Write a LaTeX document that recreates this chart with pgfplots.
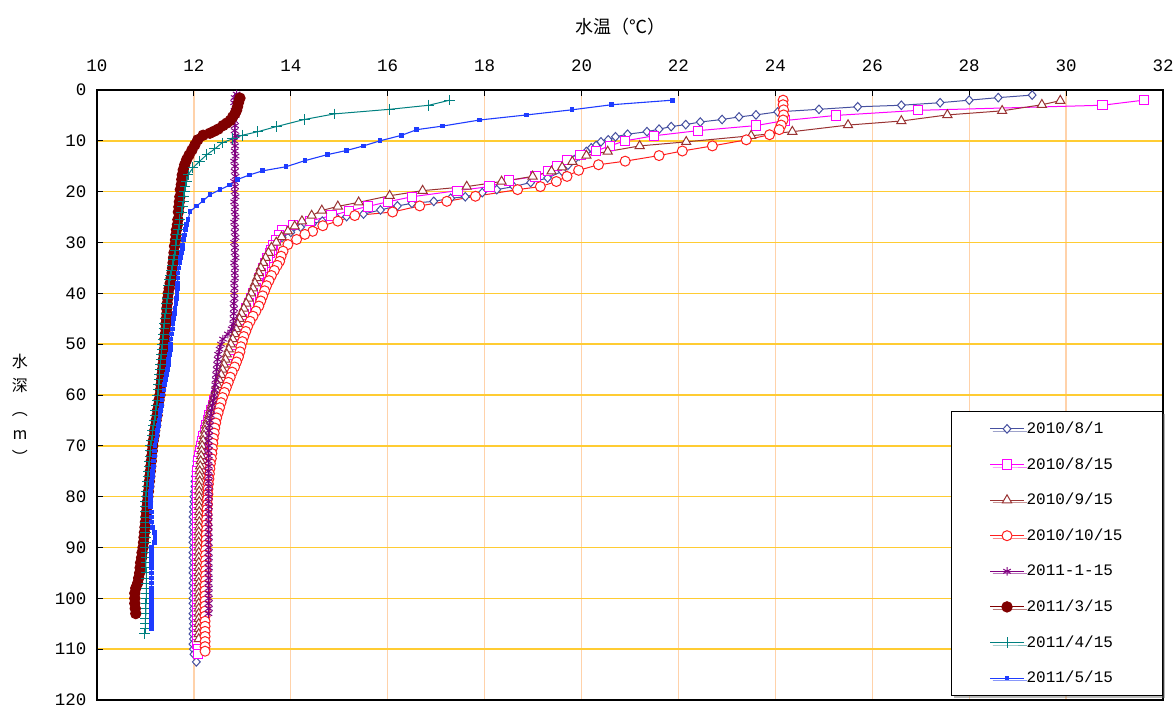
\documentclass[border=0pt]{standalone}
\usepackage{fontspec}
\setmainfont{Liberation Mono}
\newfontfamily\cjk{Noto Sans CJK SC}
\usepackage{pgfplots}
\pgfplotsset{compat=1.18}
\usetikzlibrary{shadows}
\definecolor{cA}{RGB}{70,80,160}
\definecolor{cB}{RGB}{255,0,255}
\definecolor{cC}{RGB}{153,51,51}
\definecolor{cD}{RGB}{255,30,30}
\definecolor{cE}{RGB}{128,0,128}
\definecolor{cF}{RGB}{128,0,0}
\definecolor{cG}{RGB}{0,128,128}
\definecolor{cH}{RGB}{30,60,255}
\definecolor{gridX}{RGB}{255,210,170}
\definecolor{gridY}{RGB}{255,204,51}
\begin{document}
\begin{tikzpicture}
\useasboundingbox (-97pt,-9pt) rectangle (1079pt,700pt);
\begin{axis}[
 at={(0pt,0pt)}, anchor=south west,
 width=1066pt, height=610pt, scale only axis,
 xmin=10, xmax=32, ymin=0, ymax=120, y dir=reverse,
 xtick={10,12,...,32}, ytick={0,10,...,120},
 xtick pos=right, xticklabel pos=right, ytick pos=left,
 tick align=inside, major tick length=6pt,
 tick style={black, line width=1pt},
 grid=major,
 x grid style={gridX, line width=1.3pt},
 y grid style={gridY, line width=1.5pt},
 axis line style={black, line width=1.4pt},
 tick label style={font=\fontsize{17.5}{20}\selectfont},
 xticklabel style={yshift=15pt},
 yticklabel style={xshift=-7pt},
 /pgf/number format/assume math mode=true,
 legend cell align=left,
 legend image code/.code={\draw[mark repeat=2,mark phase=2,#1] plot coordinates {(0pt,0pt) (17pt,0pt) (34pt,0pt)};},
 legend style={at={(1,0)}, anchor=south east, yshift=4pt, draw=black, line width=0.8pt, fill=white,
   drop shadow={shadow xshift=2.5pt, shadow yshift=-2.5pt, fill=black!55},
   inner xsep=38pt, inner ysep=8pt, row sep=16.6pt,
   font=\fontsize{16}{18}\selectfont,
   nodes={inner sep=2pt, text height=12pt, text depth=3pt}},
]
% 2010/8/1
\addplot[color=cA, line width=1pt, mark=diamond*, mark size=4.3pt, mark options={fill=white, solid, xscale=1.2}] coordinates {
(29.3,1) (28.6,1.5) (28.0,2) (27.4,2.5) (26.6,3) (25.7,3.3) (24.9,3.8) (24.05,4.3) (23.6,4.9) (23.25,5.3) (22.9,5.8) (22.45,6.3) (22.15,6.8) (21.85,7.2) (21.6,7.7) (21.35,8.2) (20.95,8.7) (20.7,9.2) (20.55,9.8) (20.4,10.2) (20.3,10.9) (20.2,11.4) (20.1,12.1) (19.95,13) (19.85,13.7) (19.72,14.8) (19.6,16) (19.3,17.3) (18.95,18.2) (18.6,19) (18.25,19.6) (17.95,20.2) (17.6,21) (17.3,21.3) (16.95,21.9) (16.5,22.3) (16.2,22.8) (15.85,23.6) (15.5,24.4) (15.15,24.9) (14.95,25.2) (14.65,25.8) (14.45,26.3) (14.2,27) (14.0,28) (13.82,29) (13.7,30) (13.64,31) (13.59,32) (13.54,33) (13.49,34) (13.44,35) (13.4,36) (13.36,37) (13.32,38) (13.28,39) (13.22,40) (13.17,41) (13.12,42) (13.07,43) (13.03,44) (12.99,45) (12.95,46) (12.92,47) (12.89,48) (12.85,49) (12.81,50) (12.77,51) (12.73,52) (12.69,53) (12.65,54) (12.61,55) (12.58,56) (12.54,57) (12.5,58) (12.47,59) (12.43,60) (12.4,61) (12.37,62) (12.34,63) (12.3,64) (12.27,65) (12.24,66) (12.21,67) (12.18,68) (12.15,69) (12.12,70) (12.1,71) (12.08,72) (12.06,73) (12.05,74) (12.04,75) (12.03,76) (12.02,77) (12.02,78) (12.01,79) (12.0,80) (12.0,81) (11.99,82) (11.99,83) (11.98,84) (11.99,85) (11.98,86) (11.99,87) (11.98,88) (11.98,89) (11.99,90) (11.98,91) (11.98,92) (11.99,93) (11.98,94) (11.98,95) (11.99,96) (11.98,97) (11.98,98) (11.99,99) (11.98,100) (11.98,101) (11.99,102) (11.98,103) (11.98,104) (11.99,105) (11.98,106) (11.98,107) (11.99,108) (11.98,109) (11.99,110) (12.0,111) (12.05,112.5)
};
\addlegendentry{2010/8/1}
% 2010/8/15
\addplot[color=cB, line width=1pt, mark=square*, mark size=4.6pt, mark options={fill=white, solid}] coordinates {
(31.6,2) (30.75,3) (26.95,4) (25.25,5) (24.2,6) (23.6,7) (22.4,8) (21.5,9) (20.9,10) (20.58,11) (20.3,12) (19.98,12.8) (19.7,13.8) (19.5,15) (19.3,16) (19.05,17) (18.5,17.8) (18.1,19) (17.44,19.8) (16.5,21) (16.0,22) (15.59,22.9) (15.2,23.8) (14.84,24.7) (14.39,25.8) (14.04,26.5) (13.81,27.5) (13.75,28.5) (13.69,29.5) (13.64,30.5) (13.6,31.5) (13.57,32) (13.52,33) (13.47,34) (13.42,35) (13.38,36) (13.35,37) (13.32,38) (13.28,39) (13.22,40) (13.17,41) (13.13,42) (13.08,43) (13.04,44) (13.0,45) (12.97,46) (12.94,47) (12.91,48) (12.88,49) (12.85,50) (12.8,51) (12.76,52) (12.72,53) (12.68,54) (12.65,55) (12.61,56) (12.57,57) (12.53,58) (12.5,59) (12.46,60) (12.42,61) (12.39,62) (12.36,63) (12.32,64) (12.29,65) (12.26,66) (12.23,67) (12.2,68) (12.17,69) (12.14,70) (12.12,71) (12.1,72) (12.09,73) (12.08,74) (12.07,75) (12.07,76) (12.07,77) (12.07,78) (12.07,79) (12.07,80) (12.07,81) (12.07,82) (12.07,83) (12.07,84) (12.07,85) (12.07,86) (12.07,87) (12.07,88) (12.07,89) (12.07,90) (12.07,91) (12.07,92) (12.07,93) (12.07,94) (12.07,95) (12.07,96) (12.07,97) (12.07,98) (12.07,99) (12.07,100) (12.07,101) (12.07,102) (12.07,103) (12.07,104) (12.07,105) (12.07,106) (12.07,107) (12.07,108) (12.07,109) (12.08,110) (12.08,111)
};
\addlegendentry{2010/8/15}
% 2010/9/15
\addplot[color=cC, line width=1pt, mark=triangle*, mark size=5.3pt, mark options={fill=white, solid}] coordinates {
(29.88,2.1) (29.5,2.9) (28.68,4.1) (27.55,4.9) (26.6,6.1) (25.5,6.9) (24.35,8.2) (23.5,9) (22.16,10.2) (21.2,11) (20.54,12.1) (20.1,12.9) (19.81,14.1) (19.6,15.2) (19.38,16) (18.99,17) (18.35,18) (17.63,19) (16.72,19.8) (16.04,20.8) (15.4,22.1) (14.97,22.9) (14.64,23.7) (14.43,24.7) (14.23,25.8) (14.08,26.8) (13.94,27.8) (13.81,28.9) (13.7,30) (13.6,31) (13.54,32) (13.48,33) (13.43,34) (13.38,35) (13.34,36) (13.3,37) (13.26,38) (13.22,39) (13.18,40) (13.13,41) (13.08,42) (13.03,43) (12.98,44) (12.94,45) (12.9,46) (12.87,47) (12.84,48) (12.8,49) (12.76,50) (12.72,51) (12.68,52) (12.65,53) (12.62,54) (12.59,55) (12.56,56) (12.52,57) (12.49,58) (12.46,59) (12.43,60) (12.4,61) (12.37,62) (12.34,63) (12.31,64) (12.28,65) (12.25,66) (12.23,67) (12.21,68) (12.19,69) (12.17,70) (12.16,71) (12.15,72) (12.14,73) (12.13,74) (12.12,75) (12.12,76) (12.12,77) (12.11,78) (12.11,79) (12.11,80) (12.11,81) (12.11,82) (12.11,83) (12.11,84) (12.11,85) (12.11,86) (12.1,87) (12.1,88) (12.1,89) (12.1,90) (12.1,91) (12.1,92) (12.1,93) (12.1,94) (12.1,95) (12.1,96) (12.1,97) (12.1,98) (12.1,99) (12.1,100) (12.1,101) (12.1,102) (12.1,103) (12.1,104) (12.1,105) (12.1,106) (12.1,107) (12.1,108)
};
\addlegendentry{2010/9/15}
% 2010/10/15
\addplot[color=cD, line width=1pt, mark=*, mark size=5pt, mark options={fill=white, solid}] coordinates {
(24.16,2) (24.16,2.9) (24.17,3.9) (24.17,4.9) (24.16,5.9) (24.12,6.9) (24.08,7.8) (23.88,8.8) (23.4,9.8) (22.7,11) (22.08,12) (21.6,12.9) (20.9,14) (20.35,14.7) (19.94,15.8) (19.7,17) (19.48,18) (19.15,19) (18.68,19.6) (17.81,20.9) (17.22,21.9) (16.66,22.8) (16.1,24) (15.32,24.7) (14.97,25.8) (14.66,26.7) (14.45,27.8) (14.29,28.4) (14.12,29.4) (13.94,30.4) (13.84,31.7) (13.8,32.7) (13.77,33.7) (13.72,34.5) (13.66,35.5) (13.6,36.5) (13.55,37.5) (13.5,38.5) (13.46,39.5) (13.42,40.5) (13.38,41.5) (13.34,42.5) (13.28,43.5) (13.22,44.5) (13.16,45.5) (13.11,46.5) (13.07,47.5) (13.03,48.5) (13.0,49.5) (12.97,50.5) (12.95,51.5) (12.92,52.5) (12.88,53.5) (12.84,54.5) (12.79,55.5) (12.75,56.5) (12.71,57.5) (12.67,58.5) (12.63,59.5) (12.59,60.5) (12.56,61.5) (12.53,62.5) (12.5,63.5) (12.47,64.5) (12.45,65.5) (12.43,66.5) (12.42,67.5) (12.4,68.5) (12.39,69.5) (12.38,70.5) (12.37,71.5) (12.36,72.5) (12.34,73.5) (12.33,74.5) (12.32,75.5) (12.31,76.5) (12.3,77.5) (12.29,78.5) (12.29,79.5) (12.28,80.5) (12.28,81.5) (12.27,82.5) (12.27,83.5) (12.26,84.5) (12.26,85.5) (12.26,86.5) (12.25,87.5) (12.25,88.5) (12.25,89.5) (12.24,90.5) (12.24,91.5) (12.24,92.5) (12.24,93.5) (12.24,94.5) (12.24,95.5) (12.24,96.5) (12.23,97.5) (12.23,98.5) (12.23,99.5) (12.23,100.5) (12.23,101.5) (12.23,102.5) (12.23,103.5) (12.23,104.5) (12.23,105.5) (12.23,106.5) (12.23,107.5) (12.23,108.5) (12.23,109.5) (12.23,110.4)
};
\addlegendentry{2010/10/15}
% 2011-1-15
\addplot[color=cE, line width=1pt, mark=asterisk, mark size=4.3pt, mark options={solid}] coordinates {
(12.88,0.8) (12.84,1.5) (12.86,2) (12.83,2.5) (12.86,3) (12.84,4) (12.86,5) (12.83,6) (12.85,7) (12.84,8) (12.86,9) (12.83,10) (12.85,11) (12.84,12) (12.86,13) (12.83,14) (12.85,15) (12.84,16) (12.86,17) (12.83,18) (12.85,19) (12.84,20) (12.86,21) (12.83,22) (12.85,23) (12.84,24) (12.86,25) (12.83,26) (12.85,27) (12.84,28) (12.86,29) (12.83,30) (12.85,31) (12.84,32) (12.86,33) (12.83,34) (12.85,35) (12.84,36) (12.85,37) (12.83,38) (12.84,39) (12.83,40) (12.84,41) (12.82,42) (12.83,43) (12.82,44) (12.82,45) (12.81,46) (12.78,47) (12.7,48) (12.6,49) (12.56,50) (12.53,51) (12.5,52) (12.49,53) (12.48,54) (12.47,55) (12.46,56) (12.45,57) (12.44,58) (12.43,59) (12.42,60) (12.4,61) (12.38,62) (12.36,63) (12.35,64) (12.33,65) (12.32,66) (12.31,67) (12.31,68) (12.3,69) (12.31,70) (12.3,71) (12.31,72) (12.3,73) (12.31,74) (12.3,75) (12.31,76) (12.3,77) (12.31,78) (12.3,79) (12.31,80) (12.3,81) (12.31,82) (12.3,83) (12.31,84) (12.3,85) (12.31,86) (12.3,87) (12.31,88) (12.3,89) (12.31,90) (12.3,91) (12.31,92) (12.3,93) (12.31,94) (12.3,95) (12.31,96) (12.3,97) (12.31,98) (12.3,99) (12.31,100) (12.3,101) (12.31,102) (12.3,103)
};
\addlegendentry{2011-1-15}
% 2011/3/15
\addplot[color=cF, line width=1pt, mark=*, mark size=5.2pt, mark options={fill=cF, solid}] coordinates {
(12.95,1.6) (12.92,2.5) (12.9,3.3) (12.88,4) (12.85,4.6) (12.8,5.3) (12.75,6) (12.68,6.5) (12.6,7) (12.5,7.7) (12.42,8.1) (12.33,8.5) (12.19,8.9) (12.08,9.8) (12.02,10.8) (11.96,11.8) (11.9,12.8) (11.85,13.7) (11.81,14.7) (11.78,15.7) (11.76,16.7) (11.75,17.6) (11.74,18.6) (11.72,19.6) (11.71,21) (11.7,22) (11.69,23) (11.68,24) (11.67,25.5) (11.66,26.5) (11.64,27.5) (11.63,28.5) (11.62,29.5) (11.6,30.7) (11.59,32) (11.58,33) (11.57,34) (11.56,35) (11.55,36) (11.53,37) (11.51,38) (11.49,39) (11.47,40) (11.46,41) (11.45,42) (11.44,43) (11.44,44) (11.43,45) (11.42,46) (11.42,47) (11.41,48) (11.4,49) (11.4,50) (11.39,51) (11.38,52) (11.37,53) (11.36,54) (11.35,55) (11.34,56) (11.33,57) (11.32,58) (11.31,59) (11.3,60) (11.28,61) (11.27,62) (11.25,63) (11.24,64) (11.22,65) (11.21,66) (11.19,67) (11.18,68) (11.16,69) (11.15,70) (11.14,71) (11.13,72) (11.12,73) (11.11,74) (11.1,75) (11.09,76) (11.08,77) (11.07,78) (11.06,79) (11.05,80) (11.04,81) (11.03,82) (11.02,83) (11.01,84) (11.0,85) (10.99,86) (10.98,87) (10.97,88) (10.96,89) (10.95,90) (10.93,91) (10.92,92) (10.9,93) (10.89,94) (10.88,95) (10.86,96) (10.84,97) (10.8,98) (10.78,99) (10.78,100) (10.78,101) (10.79,102) (10.8,103)
};
\addlegendentry{2011/3/15}
% 2011/4/15
\addplot[color=cG, line width=1pt, mark=+, mark size=5.3pt, mark options={solid}] coordinates {
(17.28,2) (16.85,3) (16.04,3.8) (14.9,4.7) (14.28,5.8) (13.7,7.2) (13.32,8.2) (13.0,8.9) (12.8,9.6) (12.58,10.4) (12.43,11.6) (12.27,12.7) (12.12,14) (11.98,15.3) (11.88,16.7) (11.85,18) (11.82,19) (11.8,20) (11.79,21) (11.78,22) (11.76,23) (11.74,24) (11.71,25.5) (11.7,26.5) (11.68,27.5) (11.66,28.5) (11.65,29.4) (11.63,30.5) (11.61,31.5) (11.59,32.5) (11.57,33.3) (11.55,34.5) (11.53,35.5) (11.51,36.5) (11.5,37.3) (11.48,38.5) (11.47,40) (11.45,41) (11.44,42) (11.43,43) (11.42,44) (11.4,45) (11.39,46) (11.38,47) (11.37,48) (11.36,49) (11.35,50) (11.34,51) (11.33,52) (11.32,53) (11.31,54) (11.3,55) (11.29,56) (11.28,57) (11.27,58) (11.26,59) (11.25,60) (11.24,61) (11.22,62) (11.21,63) (11.2,64) (11.18,65) (11.17,66) (11.15,67) (11.14,68) (11.13,69) (11.11,70) (11.1,71) (11.09,72) (11.08,73) (11.07,74) (11.06,75) (11.05,76) (11.04,77) (11.03,78) (11.02,79) (11.01,80) (11.0,81) (11.0,82) (11.0,83) (11.0,84) (11.0,85) (11.0,86) (11.0,87) (11.0,88) (11.0,89) (11.0,90) (11.01,91) (11.01,92) (11.01,93) (11.01,94) (11.02,95) (11.02,96) (11.02,97) (11.02,98) (11.02,99) (11.02,100) (11.01,101) (11.01,102) (11.01,103) (11.0,104) (11.0,105) (11.0,106) (10.98,107)
};
\addlegendentry{2011/4/15}
% 2011/5/15
\addplot[color=cH, line width=1.1pt, mark=square*, mark size=1.8pt, mark options={solid}] coordinates {
(21.88,2) (20.62,2.9) (19.8,3.9) (18.87,4.9) (17.9,5.9) (17.13,7.1) (16.6,7.8) (16.29,8.9) (15.84,10) (15.5,11) (15.15,11.9) (14.76,12.7) (14.29,13.9) (13.9,15.1) (13.42,15.9) (13.15,16.7) (12.9,17.6) (12.74,18.7) (12.54,19.6) (12.33,20.6) (12.19,21.8) (12.06,22.8) (11.92,23.9) (11.88,25.5) (11.85,26.5) (11.82,27.5) (11.8,28.5) (11.78,29.4) (11.77,30.5) (11.76,31.3) (11.75,32) (11.73,33) (11.71,34) (11.69,35) (11.67,36) (11.67,37) (11.66,38) (11.66,39) (11.65,40) (11.64,41) (11.63,42) (11.61,43) (11.6,44) (11.58,45) (11.57,46) (11.56,47) (11.54,48) (11.53,49) (11.52,50) (11.51,51) (11.5,52) (11.48,53) (11.47,54) (11.45,55) (11.44,56) (11.42,57) (11.4,58) (11.38,59) (11.35,60) (11.34,61) (11.33,62) (11.31,63) (11.3,64) (11.28,65) (11.27,66) (11.25,67) (11.24,68) (11.22,69) (11.2,70) (11.19,71) (11.18,72) (11.17,73) (11.16,74) (11.15,75) (11.14,76) (11.13,77) (11.12,78) (11.11,79) (11.1,80) (11.1,81) (11.11,82) (11.12,83) (11.12,84) (11.13,85) (11.15,86) (11.18,87) (11.2,88) (11.18,89) (11.13,90) (11.12,91) (11.12,92) (11.13,93) (11.12,94) (11.13,95) (11.12,96) (11.13,97) (11.12,98) (11.13,99) (11.12,100) (11.13,101) (11.12,102) (11.13,103) (11.12,104) (11.13,105) (11.13,106)
};
\addlegendentry{2011/5/15}
\end{axis}
\node[font=\cjk\fontsize{18}{20}\selectfont, anchor=center] at ([xshift=-10pt, yshift=63pt]current axis.north) {水温（℃）};
\node[font=\cjk\fontsize{16}{24}\selectfont, align=center, anchor=center] at ([xshift=-77pt, yshift=-14pt]current axis.west) {水\\深\\︵\\m\\︶};
\end{tikzpicture}
\end{document}
